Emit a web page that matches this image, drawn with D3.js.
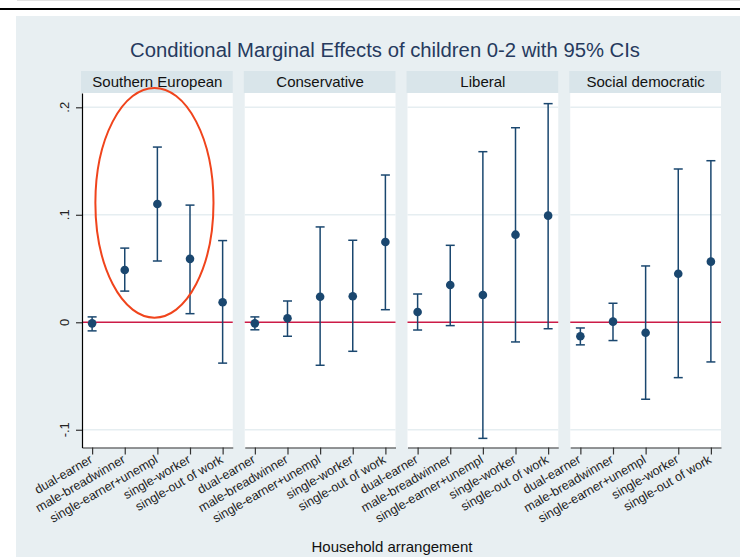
<!DOCTYPE html>
<html>
<head>
<meta charset="utf-8">
<script src="https://cdn.jsdelivr.net/npm/d3@7"></script>
<style>
  html, body { margin: 0; padding: 0; background: #ffffff; }
  svg { display: block; font-family: "Liberation Sans", Arial, Helvetica, sans-serif; }
</style>
</head>
<body>
<svg id="chart" width="740" height="557"></svg>
<script>
// ---------------- data ----------------
const chartTitle = "Conditional Marginal Effects of children 0-2 with 95% CIs";
const xAxisTitle = "Household arrangement";
const regimes = ["Southern European", "Conservative", "Liberal", "Social democratic"];
const categories = ["dual-earner", "male-breadwinner", "single-earner+unempl", "single-worker", "single-out of work"];

// point estimates (one array per regime, in category order)
const estSouthern     = [-0.001, 0.0487, 0.110, 0.059, 0.0186];
const estConservative = [-0.001, 0.0037, 0.0238, 0.0242, 0.0747];
const estLiberal      = [0.0096, 0.0347, 0.0254, 0.0815, 0.0992];
const estSocialDem    = [-0.013, 0.0006, -0.0097, 0.0452, 0.0564];

// lower 95% CI bounds
const loSouthern     = [-0.008, 0.029, 0.057, 0.008, -0.038];
const loConservative = [-0.007, -0.013, -0.040, -0.027, 0.0117];
const loLiberal      = [-0.0072, -0.0031, -0.108, -0.0183, -0.006];
const loSocialDem    = [-0.021, -0.017, -0.0716, -0.0515, -0.0369];

// upper 95% CI bounds
const hiSouthern     = [0.005, 0.069, 0.163, 0.109, 0.076];
const hiConservative = [0.005, 0.0198, 0.0887, 0.0763, 0.137];
const hiLiberal      = [0.0263, 0.0716, 0.1587, 0.181, 0.2034];
const hiSocialDem    = [-0.0053, 0.0177, 0.0524, 0.1426, 0.1503];

const yTicks = [-0.1, 0, 0.1, 0.2];
const yTickLabels = ["-.1", "0", ".1", ".2"];
const yDomain = [-0.1165, 0.2133];
const referenceValue = 0;

// highlight ellipse annotation (in data terms, first panel)
const highlightCategory = "single-earner+unempl";
const highlightTop = 0.218;
const highlightBottom = 0.0043;

// ---------------- build ----------------
const estimates = [estSouthern, estConservative, estLiberal, estSocialDem];
const lowers = [loSouthern, loConservative, loLiberal, loSocialDem];
const uppers = [hiSouthern, hiConservative, hiLiberal, hiSocialDem];

const panels = regimes.map((r, i) => ({
  regime: r,
  points: categories.map((c, j) => ({ cat: c, est: estimates[i][j], lo: lowers[i][j], hi: uppers[i][j] }))
}));

const W = 740, H = 557;
const plotLeft = 82, plotRight = 721, plotTop = 93, plotBottom = 447.5;
const headerTop = 71;

const svg = d3.select("#chart");
const navy = "#1a476f";

// background / frame
svg.append("line").attr("x1", 17).attr("x2", W).attr("y1", 0.5).attr("y2", 0.5)
  .attr("stroke", "#e2e2e2").attr("stroke-width", 1);
svg.append("line").attr("x1", 0).attr("x2", W).attr("y1", 9).attr("y2", 9)
  .attr("stroke", "#000").attr("stroke-width", 2.2);
svg.append("rect").attr("x", 16).attr("y", 16).attr("width", W - 16).attr("height", H - 16)
  .attr("fill", "#e8eff2");

// title
svg.append("text").attr("x", 385).attr("y", 57).attr("text-anchor", "middle")
  .attr("font-size", 20).attr("fill", "#263a5e")
  .attr("textLength", 510).attr("lengthAdjust", "spacingAndGlyphs")
  .text(chartTitle);

// scales
const panelScale = d3.scaleBand().domain(regimes).range([plotLeft, plotRight])
  .paddingInner(12 / 162.75).paddingOuter(0);
const bw = panelScale.bandwidth();
const xScale = d3.scalePoint().domain(categories).range([0, bw]).padding(0.31);
const yScale = d3.scaleLinear().domain(yDomain).range([plotBottom, plotTop]);

panels.forEach((p, i) => {
  const g = svg.append("g").attr("transform", `translate(${panelScale(p.regime)},0)`);

  // header strip
  g.append("rect").attr("x", -1).attr("y", headerTop).attr("width", bw + 1).attr("height", plotTop - headerTop)
    .attr("fill", "#d9e5ea");
  g.append("text").attr("x", bw / 2).attr("y", 87).attr("text-anchor", "middle")
    .attr("font-size", 15).attr("fill", "#111").text(p.regime);

  // plot region
  g.append("rect").attr("x", 0).attr("y", plotTop).attr("width", bw).attr("height", plotBottom - plotTop)
    .attr("fill", "#ffffff");

  // gridlines
  g.selectAll(".grid").data(yTicks.filter(t => t !== referenceValue)).enter().append("line")
    .attr("x1", 0).attr("x2", bw)
    .attr("y1", d => yScale(d)).attr("y2", d => yScale(d))
    .attr("stroke", "#e6eef1").attr("stroke-width", 1.6);

  // reference line at zero
  g.append("line").attr("x1", 0).attr("x2", bw)
    .attr("y1", yScale(referenceValue)).attr("y2", yScale(referenceValue))
    .attr("stroke", "#cc1b47").attr("stroke-width", 1.5);

  // x axis
  const xAxis = d3.axisBottom(xScale).tickSize(7).tickSizeOuter(0).tickFormat("");
  const xg = g.append("g").attr("transform", `translate(0,${plotBottom})`).call(xAxis);
  xg.select(".domain").attr("stroke", "#333").attr("stroke-width", 1.2);
  xg.selectAll(".tick line").attr("stroke", "#333").attr("stroke-width", 1.2);

  g.selectAll(".xlab").data(categories).enter().append("text")
    .attr("transform", d => `translate(${xScale(d) + 1.4},${plotBottom + 14.5}) rotate(-30)`)
    .attr("text-anchor", "end").attr("font-size", 12.6).attr("fill", "#222")
    .text(d => d);

  // error bars
  const bars = g.selectAll(".ci").data(p.points).enter().append("g");
  bars.append("line")
    .attr("x1", d => xScale(d.cat)).attr("x2", d => xScale(d.cat))
    .attr("y1", d => yScale(d.lo)).attr("y2", d => yScale(d.hi))
    .attr("stroke", navy).attr("stroke-width", 1.5);
  bars.append("line")
    .attr("x1", d => xScale(d.cat) - 4.5).attr("x2", d => xScale(d.cat) + 4.5)
    .attr("y1", d => yScale(d.lo)).attr("y2", d => yScale(d.lo))
    .attr("stroke", navy).attr("stroke-width", 1.5);
  bars.append("line")
    .attr("x1", d => xScale(d.cat) - 4.5).attr("x2", d => xScale(d.cat) + 4.5)
    .attr("y1", d => yScale(d.hi)).attr("y2", d => yScale(d.hi))
    .attr("stroke", navy).attr("stroke-width", 1.5);
  bars.append("circle")
    .attr("cx", d => xScale(d.cat)).attr("cy", d => yScale(d.est)).attr("r", 4.3)
    .attr("fill", navy);

  if (i === 0) {
    // y axis
    const yAxis = d3.axisLeft(yScale).tickValues(yTicks).tickSize(6).tickSizeOuter(0).tickFormat("");
    const yg = g.append("g").call(yAxis);
    yg.select(".domain").attr("stroke", "#000").attr("stroke-width", 1.2);
    yg.selectAll(".tick line").attr("stroke", "#333").attr("stroke-width", 1.2);
    g.selectAll(".ylab").data(yTicks).enter().append("text")
      .attr("transform", d => `translate(${-13},${yScale(d)}) rotate(-90)`)
      .attr("text-anchor", "middle").attr("font-size", 13).attr("fill", "#222")
      .text((d, k) => yTickLabels[k]);

    // highlight ellipse
    const step = xScale.step();
    g.append("ellipse")
      .attr("cx", xScale(highlightCategory) - 0.09 * step)
      .attr("cy", (yScale(highlightTop) + yScale(highlightBottom)) / 2)
      .attr("rx", 1.81 * step)
      .attr("ry", (yScale(highlightBottom) - yScale(highlightTop)) / 2)
      .attr("fill", "none").attr("stroke", "#f0441c").attr("stroke-width", 2);
  }
});

// x axis title
svg.append("text").attr("x", 392).attr("y", 552).attr("text-anchor", "middle")
  .attr("font-size", 15).attr("fill", "#111").text(xAxisTitle);
</script>
</body>
</html>
